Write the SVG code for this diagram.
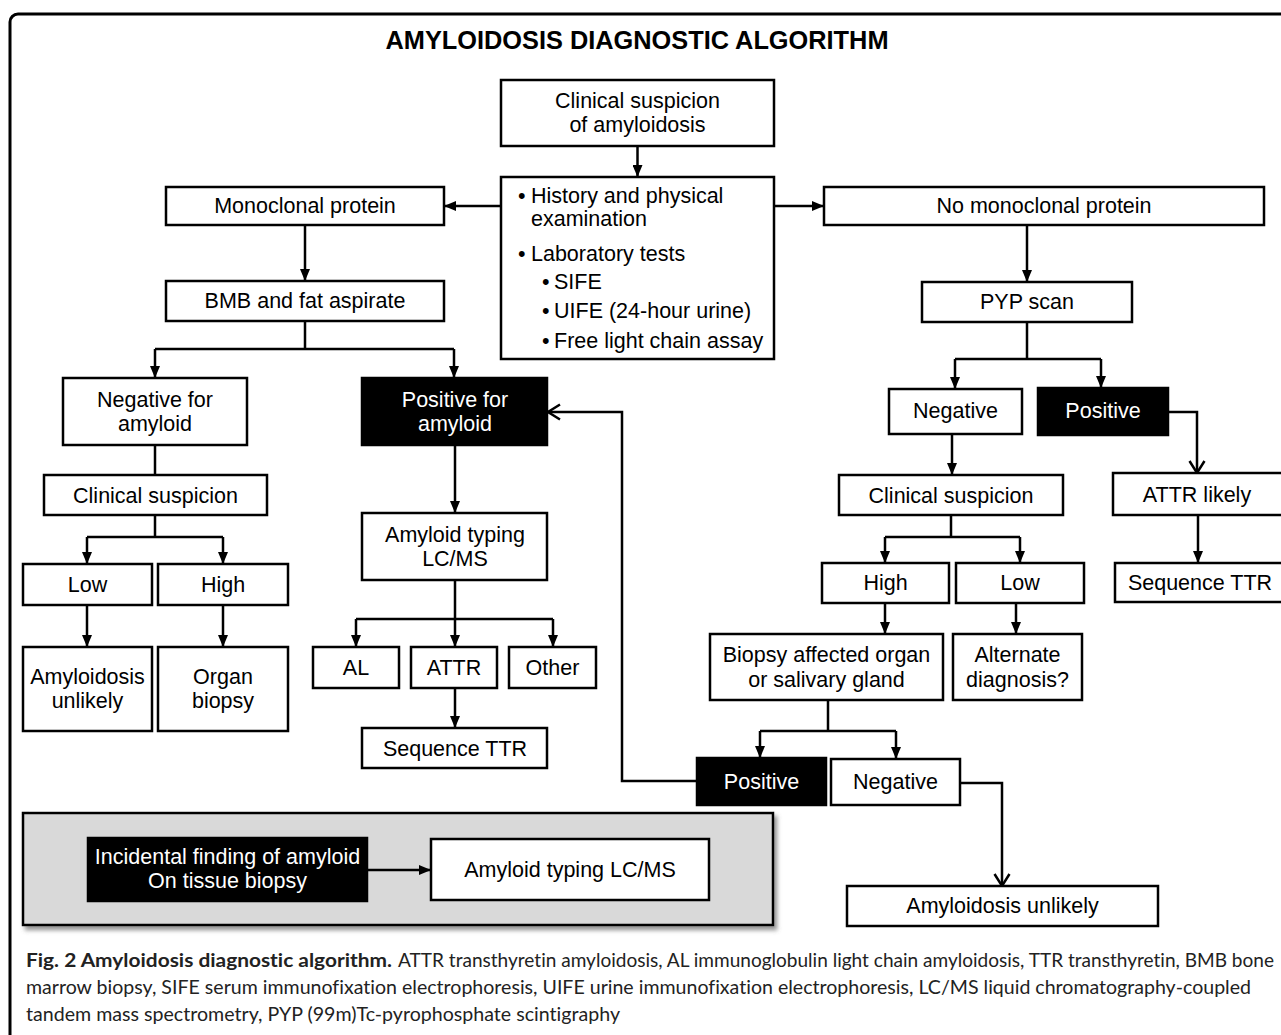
<svg xmlns="http://www.w3.org/2000/svg" width="1281" height="1035" viewBox="0 0 1281 1035">
<style>
.b{fill:#fff;stroke:#000;stroke-width:2.5}
.k{fill:#000;stroke:#000;stroke-width:2.5}
.t{font-family:"Liberation Sans",Arial,sans-serif;font-size:21.5px;fill:#000;text-anchor:middle}
.w{fill:#fff}
.l{text-anchor:start}
.c{fill:none;stroke:#000;stroke-width:2.5}
.cap{font-family:Lato,"Open Sans",sans-serif;font-size:19px;fill:#222;font-variant-ligatures:none}
</style>
<defs>
<marker id="a" markerUnits="userSpaceOnUse" markerWidth="12" markerHeight="10" refX="12" refY="5" orient="auto"><path d="M0,0 L12,5 L0,10 z" fill="#000"/></marker>
<marker id="o" markerUnits="userSpaceOnUse" markerWidth="16" markerHeight="18" refX="13" refY="9" orient="auto"><path d="M1,1.5 L13,9 L1,16.5" fill="none" stroke="#000" stroke-width="2.5"/></marker>
<filter id="sh" x="-5%" y="-10%" width="115%" height="130%"><feDropShadow dx="3" dy="4" stdDeviation="2" flood-color="#666" flood-opacity="0.7"/></filter>
</defs>
<rect x="10" y="14" width="1290" height="1040" rx="8" fill="#fff" stroke="#000" stroke-width="3"/>
<text x="637" y="49" font-family="Liberation Sans,Arial,sans-serif" font-size="25" font-weight="bold" text-anchor="middle" textLength="503" lengthAdjust="spacingAndGlyphs">AMYLOIDOSIS DIAGNOSTIC ALGORITHM</text>

<g id="panel"><rect x="23" y="813" width="750" height="112" fill="#d9d9d9" stroke="#000" stroke-width="2.5" filter="url(#sh)"/></g>

<g id="connectors">
<path class="c" d="M637.5,146 V177" marker-end="url(#a)"/>
<path class="c" d="M501,206 H444" marker-end="url(#a)"/>
<path class="c" d="M774,206 H824" marker-end="url(#a)"/>
<path class="c" d="M305,225 V281" marker-end="url(#a)"/>
<path class="c" d="M305,321 V349 M155,349 H454"/>
<path class="c" d="M155,349 V378" marker-end="url(#a)"/>
<path class="c" d="M454,349 V378" marker-end="url(#a)"/>
<path class="c" d="M1027,225 V282" marker-end="url(#a)"/>
<path class="c" d="M1027,322 V359 M955,359 H1101"/>
<path class="c" d="M955,359 V389" marker-end="url(#a)"/>
<path class="c" d="M1101,359 V388" marker-end="url(#a)"/>
<path class="c" d="M1168,412 H1197 V473" marker-end="url(#o)"/>
<path class="c" d="M155,445 V475"/>
<path class="c" d="M155,515 V537 M87,537 H223"/>
<path class="c" d="M87,537 V564" marker-end="url(#a)"/>
<path class="c" d="M223,537 V564" marker-end="url(#a)"/>
<path class="c" d="M87,605 V647" marker-end="url(#a)"/>
<path class="c" d="M223,605 V647" marker-end="url(#a)"/>
<path class="c" d="M455,445 V513" marker-end="url(#a)"/>
<path class="c" d="M455,580 V619 M356,619 H553"/>
<path class="c" d="M356,619 V647" marker-end="url(#a)"/>
<path class="c" d="M455,619 V647" marker-end="url(#a)"/>
<path class="c" d="M553,619 V647" marker-end="url(#a)"/>
<path class="c" d="M455,688 V728" marker-end="url(#a)"/>
<path class="c" d="M952,434 V475" marker-end="url(#a)"/>
<path class="c" d="M951,515 V537 M885,537 H1020"/>
<path class="c" d="M885,537 V563" marker-end="url(#a)"/>
<path class="c" d="M1020,537 V563" marker-end="url(#a)"/>
<path class="c" d="M885,603 V634" marker-end="url(#a)"/>
<path class="c" d="M1016,603 V634" marker-end="url(#a)"/>
<path class="c" d="M1198,515 V563" marker-end="url(#a)"/>
<path class="c" d="M828,700 V731 M760,731 H896"/>
<path class="c" d="M760,731 V758" marker-end="url(#a)"/>
<path class="c" d="M896,731 V759" marker-end="url(#a)"/>
<path class="c" d="M697,781 H622 V412 H548" marker-end="url(#o)"/>
<path class="c" d="M960,783 H1002 V886" marker-end="url(#o)"/>
<path class="c" d="M367,870 H431" marker-end="url(#a)"/>
</g>

<g id="clinical"><rect class="b" x="501" y="80" width="273" height="66"/><text class="t" x="637.5" y="108">Clinical suspicion</text><text class="t" x="637.5" y="132">of amyloidosis</text></g>
<g id="history"><rect class="b" x="501" y="177" width="273" height="182"/>
<text class="t l" x="518" y="203">•</text><text class="t l" x="531" y="203">History and physical</text>
<text class="t l" x="531" y="226">examination</text>
<text class="t l" x="518" y="261">•</text><text class="t l" x="531" y="261">Laboratory tests</text>
<text class="t l" x="542" y="289">•</text><text class="t l" x="554" y="289">SIFE</text>
<text class="t l" x="542" y="318">•</text><text class="t l" x="554" y="318">UIFE (24-hour urine)</text>
<text class="t l" x="542" y="348">•</text><text class="t l" x="554" y="348">Free light chain assay</text></g>
<g id="mono"><rect class="b" x="166" y="187" width="278" height="38"/><text class="t" x="305" y="213">Monoclonal protein</text></g>
<g id="nomono"><rect class="b" x="824" y="187" width="440" height="38"/><text class="t" x="1044" y="213">No monoclonal protein</text></g>
<g id="bmb"><rect class="b" x="166" y="281" width="278" height="40"/><text class="t" x="305" y="308">BMB and fat aspirate</text></g>
<g id="pyp"><rect class="b" x="922" y="282" width="210" height="40"/><text class="t" x="1027" y="309">PYP scan</text></g>
<g id="negamy"><rect class="b" x="63" y="378" width="184" height="67"/><text class="t" x="155" y="407">Negative for</text><text class="t" x="155" y="431">amyloid</text></g>
<g id="posamy"><rect class="k" x="362" y="378" width="185" height="67"/><text class="t w" x="455" y="407">Positive for</text><text class="t w" x="455" y="431">amyloid</text></g>
<g id="clinL"><rect class="b" x="44" y="475" width="223" height="40"/><text class="t" x="155.5" y="503">Clinical suspicion</text></g>
<g id="lowL"><rect class="b" x="23" y="564" width="129" height="41"/><text class="t" x="87.5" y="592">Low</text></g>
<g id="highL"><rect class="b" x="158" y="564" width="130" height="41"/><text class="t" x="223" y="592">High</text></g>
<g id="unlikelyL"><rect class="b" x="23" y="647" width="129" height="84"/><text class="t" x="87.5" y="684">Amyloidosis</text><text class="t" x="87.5" y="708">unlikely</text></g>
<g id="organ"><rect class="b" x="158" y="647" width="130" height="84"/><text class="t" x="223" y="684">Organ</text><text class="t" x="223" y="708">biopsy</text></g>
<g id="typing"><rect class="b" x="362" y="513" width="185" height="67"/><text class="t" x="455" y="542">Amyloid typing</text><text class="t" x="455" y="566">LC/MS</text></g>
<g id="al"><rect class="b" x="313" y="647" width="86" height="41"/><text class="t" x="356" y="675">AL</text></g>
<g id="attr"><rect class="b" x="411" y="647" width="86" height="41"/><text class="t" x="454" y="675">ATTR</text></g>
<g id="other"><rect class="b" x="509" y="647" width="87" height="41"/><text class="t" x="552.5" y="675">Other</text></g>
<g id="seqL"><rect class="b" x="362" y="728" width="185" height="40"/><text class="t" x="455" y="756">Sequence TTR</text></g>
<g id="negR"><rect class="b" x="889" y="389" width="133" height="45"/><text class="t" x="955.5" y="418">Negative</text></g>
<g id="posR"><rect class="k" x="1038" y="388" width="130" height="47"/><text class="t w" x="1103" y="418">Positive</text></g>
<g id="attrlikely"><rect class="b" x="1113" y="473" width="190" height="42"/><text class="t" x="1197" y="502">ATTR likely</text></g>
<g id="seqR"><rect class="b" x="1115" y="563" width="190" height="39"/><text class="t" x="1200" y="590">Sequence TTR</text></g>
<g id="clinR"><rect class="b" x="839" y="475" width="224" height="40"/><text class="t" x="951" y="503">Clinical suspicion</text></g>
<g id="highR"><rect class="b" x="822" y="563" width="127" height="40"/><text class="t" x="885.5" y="590">High</text></g>
<g id="lowR"><rect class="b" x="956" y="563" width="128" height="40"/><text class="t" x="1020" y="590">Low</text></g>
<g id="biopsy"><rect class="b" x="710" y="634" width="233" height="66"/><text class="t" x="826.5" y="662">Biopsy affected organ</text><text class="t" x="826.5" y="687">or salivary gland</text></g>
<g id="alt"><rect class="b" x="953" y="634" width="129" height="66"/><text class="t" x="1017.5" y="662">Alternate</text><text class="t" x="1017.5" y="687">diagnosis?</text></g>
<g id="posB"><rect class="k" x="697" y="758" width="129" height="47"/><text class="t w" x="761.5" y="789">Positive</text></g>
<g id="negB"><rect class="b" x="831" y="759" width="129" height="46"/><text class="t" x="895.5" y="789">Negative</text></g>
<g id="unlikelyR"><rect class="b" x="847" y="886" width="311" height="40"/><text class="t" x="1002.5" y="913">Amyloidosis unlikely</text></g>
<g id="incidental"><rect class="k" x="88" y="838" width="279" height="63"/><text class="t w" x="227.5" y="864">Incidental finding of amyloid</text><text class="t w" x="227.5" y="888">On tissue biopsy</text></g>
<g id="typingB"><rect class="b" x="431" y="839" width="278" height="61"/><text class="t" x="570" y="877">Amyloid typing LC/MS</text></g>

<g id="caption">
<text class="cap" x="26" y="967" font-weight="bold" fill="#111" textLength="366" lengthAdjust="spacingAndGlyphs">Fig. 2 Amyloidosis diagnostic algorithm.</text>
<text class="cap" x="398" y="967" textLength="876" lengthAdjust="spacingAndGlyphs">ATTR transthyretin amyloidosis, AL immunoglobulin light chain amyloidosis, TTR transthyretin, BMB bone</text>
<text class="cap" x="26" y="994" textLength="1225" lengthAdjust="spacingAndGlyphs">marrow biopsy, SIFE serum immunofixation electrophoresis, UIFE urine immunofixation electrophoresis, LC/MS liquid chromatography-coupled</text>
<text class="cap" x="26" y="1021" textLength="594" lengthAdjust="spacingAndGlyphs">tandem mass spectrometry, PYP (99m)Tc-pyrophosphate scintigraphy</text>
</g>
</svg>
